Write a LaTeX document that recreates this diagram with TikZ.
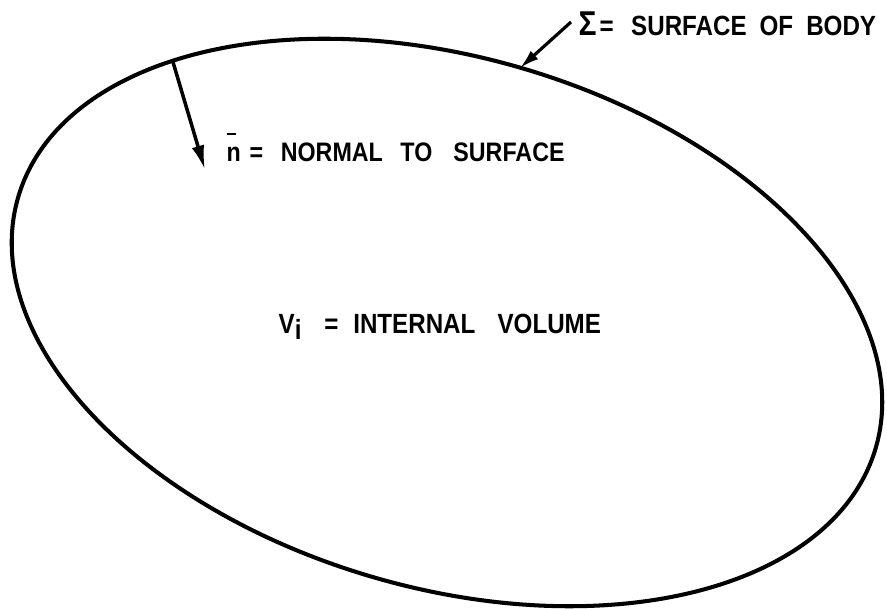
\documentclass[tikz,border=0pt]{standalone}
\usepackage{fontspec}
\newfontfamily\lettering[FakeStretch=0.87]{Liberation Sans}
\usetikzlibrary{arrows.meta}
\begin{document}
\begin{tikzpicture}[x=0.01cm,y=-0.01cm,
  bodyline/.style={line width=1.15pt},
  pointer/.style={line width=0.9pt,-{Latex[length=5.5pt,width=3.2pt]}},
  label/.style={anchor=base west,inner sep=0pt}]
\useasboundingbox (0,0) rectangle (887,608);
% body outline
\coordinate (c) at (447,322.5);
\draw[bodyline,rotate around={-16.3:(c)}] (c) ellipse [x radius=4.465cm, y radius=2.65cm];
% surface label and pointer
\node[label,font=\lettering\bfseries\fontsize{7.9}{9}\selectfont] (sigma) at (578,35)
  {{\fontsize{9.8}{10}\selectfont Σ}\hspace{0.8pt}=\hspace{5pt}SURFACE\hspace{3.7pt}OF\hspace{3.7pt}BODY};
\coordinate (sigtail) at (571,22);
\coordinate (sigtip) at (520,68);
\draw[pointer] (sigtail) -- (sigtip);
% normal label and arrow
\node[label,font=\lettering\bfseries\fontsize{7.6}{9}\selectfont] (normal) at (226,161)
  {\makebox[0pt][l]{\raisebox{7.3pt}{\rule{2.6pt}{0.8pt}}}n\hspace{2.5pt}=\hspace{5pt}NORMAL\hspace{5pt}TO\hspace{6pt}SURFACE};
\coordinate (ntail) at (173,62);
\coordinate (nhead) at (205,170);
\draw[pointer,line width=1pt,-{Latex[length=7pt,width=3.6pt]}] (ntail) -- (nhead);
% volume label
\node[label,font=\lettering\bfseries\fontsize{7.9}{9}\selectfont] (volume) at (278,333)
  {V\raisebox{-1.8pt}{i}\hspace{6.5pt}=\hspace{4.2pt}INTERNAL\hspace{6.3pt}VOLUME};
\end{tikzpicture}
\end{document}
